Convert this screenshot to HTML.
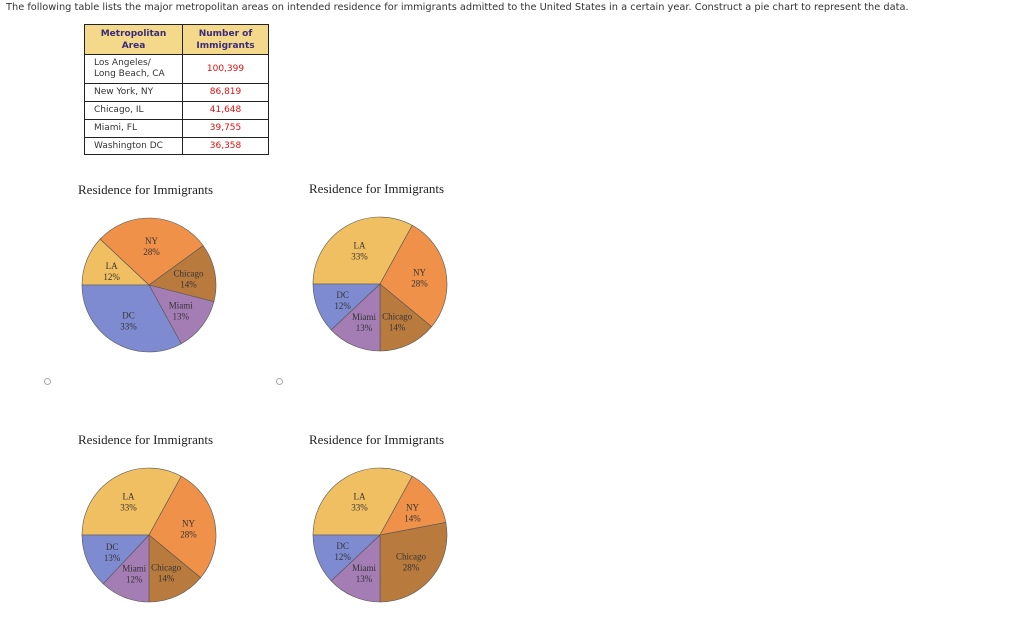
<!DOCTYPE html>
<html><head><meta charset="utf-8"><style>
body{margin:0;width:1024px;height:625px;background:#fff;position:relative;overflow:hidden;font-family:"DejaVu Sans","Liberation Sans",sans-serif}
#q{position:absolute;left:6px;top:2px;font-size:9.8px;color:#333;white-space:nowrap}
table{position:absolute;left:84px;top:24px;border-collapse:collapse;font-size:9px;table-layout:fixed;width:184px}
td{border:1px solid #222;padding:0 0 0 9px;color:#333;line-height:11px}
th{background:#f5d98a;color:#3a2a7a;border:1px solid #222;font-size:9px;height:27px;line-height:12px}
td.n{color:#d11;text-align:center;padding:0}
.radio{position:absolute;width:5px;height:5px;border:1px solid #aaa;border-radius:50%}
svg{position:absolute;left:0;top:0}
</style></head><body>
<div id="q">The following table lists the major metropolitan areas on intended residence for immigrants admitted to the United States in a certain year. Construct a pie chart to represent the data.</div>
<table>
<colgroup><col style="width:98px"><col style="width:86px"></colgroup>
<tr><th>Metropolitan<br>Area</th><th>Number of<br>Immigrants</th></tr>
<tr style="height:29px"><td>Los Angeles/<br>Long Beach, CA</td><td class="n">100,399</td></tr>
<tr style="height:18px"><td>New York, NY</td><td class="n">86,819</td></tr>
<tr style="height:18px"><td>Chicago, IL</td><td class="n">41,648</td></tr>
<tr style="height:18px"><td>Miami, FL</td><td class="n">39,755</td></tr>
<tr style="height:17px"><td>Washington DC</td><td class="n">36,358</td></tr>
</table>
<div class="radio" style="left:44px;top:378px"></div>
<div class="radio" style="left:276px;top:378px"></div>
<svg id="s" width="1024" height="625"></svg>
<script>
const categories=["LA","NY","Chicago","Miami","DC"];
const pieA=[12,28,14,13,33];
const pieB=[33,28,14,13,12];
const pieC=[33,28,14,12,13];
const pieD=[33,14,28,13,12];
const colors=["#f0bf62","#ef9148","#b97a3e","#a57db5","#7f8bd0"];
const pies=[[pieA,149,285,"a"],[pieB,380,284,"b"],[pieC,149,535,"c"],[pieD,380,535,"d"]];
const R=67,NS="http://www.w3.org/2000/svg",svg=document.getElementById('s');
function mk(t,a){const e=document.createElementNS(NS,t);for(const k in a)e.setAttribute(k,a[k]);svg.appendChild(e);return e;}
function pt(cx,cy,r,deg){const a=deg*Math.PI/180;return [cx-r*Math.cos(a),cy-r*Math.sin(a)];}
pies.forEach(([vals,cx,cy,id])=>{
  const t=mk('text',{x:cx-71,y:cy-91,'font-family':'Liberation Serif,serif','font-size':'13','fill':'#222'});
  t.textContent='Residence for Immigrants';
  
  
  const tot=vals.reduce((a,b)=>a+b,0);let ang=0;
  vals.forEach((v,i)=>{
    const sw=v/tot*360,p1=pt(cx,cy,R,ang),p2=pt(cx,cy,R,ang+sw);
    const p=mk('path',{d:`M${cx},${cy}L${p1[0]},${p1[1]}A${R},${R} 0 ${sw>180?1:0} 1 ${p2[0]},${p2[1]}Z`,fill:colors[i],stroke:'#555','stroke-width':'0.6'});
    
    
    const m=pt(cx,cy,R*0.6,ang+sw/2);
    [categories[i],v+'%'].forEach((s,k)=>{
      const tx=mk('text',{x:m[0],y:m[1]+k*11-1,'text-anchor':'middle','font-family':'Liberation Serif,serif','font-size':'9','fill':'#333'});
      tx.textContent=s;
      
      
    });
    ang+=sw;
  });
});
</script>
</body></html>
